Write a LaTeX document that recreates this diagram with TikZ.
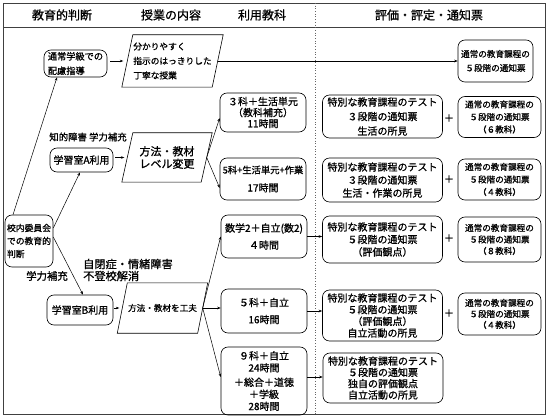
\documentclass[tikz,border=0pt]{standalone}
\usepackage{fontspec}
\setmainfont{Noto Sans CJK JP}[FakeBold=1.0]
\usetikzlibrary{arrows.meta}
\newcommand\myfs[2]{\fontsize{#1}{#2}\selectfont}
\tikzset{
  box/.style={draw, rounded corners=7pt, line width=0.6pt, inner sep=1pt, align=center},
  arr/.style={-{Stealth[length=3.5pt,width=2.6pt]}, line width=0.5pt},
  ln/.style={line width=0.5pt},
  hd/.style={font=\myfs{12}{14}},
  parabox/.style={inner sep=0pt},
}
\begin{document}
\begin{tikzpicture}[x=1pt,y=-1pt]
\useasboundingbox (0,0) rectangle (550,420);
% frame
\draw[black!75, line width=0.7pt] (3,3) rectangle (545,414);
\draw[black!75, line width=0.7pt] (3,27) -- (545,27);
\draw[black!60, dotted, line width=0.7pt] (315,3) -- (315,414);
% headers
\node[hd] (h1) at (62,15) {教育的判断};
\node[hd] (h2) at (171,15) {授業の内容};
\node[hd] (h3) at (262,15) {利用教科};
\node[hd] (h4) at (429,15) {評価・評定・通知票};
% left column
\node[box, minimum width=48pt, minimum height=52pt, align=left, font=\myfs{8.8}{13}] (kou) at (29,241) {校内委員会\\での教育的\\判断};
\node[box, minimum width=63pt, minimum height=27pt, align=left, font=\myfs{9.2}{14.5}] (tsujo) at (75.5,63.5) {通常学級での\\配慮指導};
\node[box, minimum width=63pt, minimum height=24pt, font=\myfs{10}{12}] (gakuA) at (81.5,160) {学習室A利用};
\node[box, minimum width=66pt, minimum height=30pt, font=\myfs{10}{12}] (gakuB) at (80,310) {学習室B利用};
\node[font=\myfs{9.4}{12}] (lab1) at (88,137) {知的障害 学力補充};
\node[font=\myfs{10.4}{12}] (lab2) at (47,276) {学力補充};
\node[font=\myfs{11.2}{12}, align=left, anchor=west, inner sep=0pt] (lab3) at (83,270) {自閉症・情緒障害\\不登校解消};
% parallelograms
\node[parabox, minimum width=90pt, minimum height=52pt, align=left, font=\myfs{8.7}{14.5}] (p1) at (172.5,61) {分かりやすく\\指示のはっきりした\\丁寧な授業};
\draw[line width=0.6pt] ([xshift=-5.5pt]p1.south west) -- ([xshift=5.5pt]p1.north west) -- ([xshift=5.5pt]p1.north east) -- ([xshift=-5.5pt]p1.south east) -- cycle;
\node[parabox, minimum width=79pt, minimum height=49pt, font=\myfs{11}{12.5}, align=center] (pA) at (167,157.5) {方法・教材\\レベル変更};
\draw[line width=0.6pt] ([xshift=-5.5pt]pA.south west) -- ([xshift=5.5pt]pA.north west) -- ([xshift=5.5pt]pA.north east) -- ([xshift=-5.5pt]pA.south east) -- cycle;
\node[parabox, minimum width=80pt, minimum height=50pt, font=\myfs{8.6}{11}] (pB) at (162.5,308) {方法・教材を工夫};
\draw[line width=0.6pt] ([xshift=-5pt]pB.south west) -- ([xshift=5pt]pB.north west) -- ([xshift=5pt]pB.north east) -- ([xshift=-5pt]pB.south east) -- cycle;
% middle column
\node[box, minimum width=86pt, minimum height=39pt, font=\myfs{10}{11}] (m1) at (263,112.5) {３科＋生活単元\\（教科補充）\\11時間};
\node[box, minimum width=86pt, minimum height=42pt, font=\myfs{9.3}{18}] (m2) at (263,179) {5科+生活単元+作業\\{\myfs{10}{18}17時間}};
\node[box, minimum width=86pt, minimum height=43pt, font=\myfs{10}{17}] (m3) at (264,236.5) {数学2＋自立(数2)\\４時間};
\node[box, minimum width=86pt, minimum height=44pt, font=\myfs{10}{17}] (m4) at (264,311) {５科＋自立\\16時間};
\node[box, minimum width=86pt, minimum height=68pt, font=\myfs{10}{12}] (m5) at (264,381) {９科＋自立\\24時間\\[2.5pt]＋総合＋道徳\\＋学級\\28時間};
% special boxes
\node[box, minimum width=120pt, minimum height=43pt, font=\myfs{10}{14.5}] (s1) at (382.5,116.5) {特別な教育課程のテスト\\３段階の通知票\\生活の所見};
\node[box, minimum width=120pt, minimum height=44pt, font=\myfs{10}{13}] (s2) at (382.5,180) {特別な教育課程のテスト\\３段階の通知票\\生活・作業の所見};
\node[box, minimum width=120pt, minimum height=47pt, font=\myfs{10}{12.5}] (s3) at (382.5,239.5) {特別な教育課程のテスト\\５段階の通知票\\（評価観点）};
\node[box, minimum width=120pt, minimum height=51pt, font=\myfs{10}{11.7}] (s4) at (382.5,315.5) {特別な教育課程のテスト\\５段階の通知票\\（評価観点）\\自立活動の所見};
\node[box, minimum width=120pt, minimum height=50pt, font=\myfs{10}{11.3}] (s5) at (383,378) {特別な教育課程のテスト\\５段階の通知票\\独自の評価観点\\自立活動の所見};
% regular boxes
\node[box, minimum width=75pt, minimum height=42pt, font=\myfs{8.6}{14}] (r0) at (495.5,61) {通常の教育課程の\\５段階の通知票};
\node[box, minimum width=83pt, minimum height=41pt, font=\myfs{8.6}{12.5}] (r1) at (499.5,117) {通常の教育課程の\\５段階の通知票\\（６教科）};
\node[box, minimum width=83pt, minimum height=41pt, font=\myfs{8.6}{12.5}] (r2) at (499.5,179.5) {通常の教育課程の\\５段階の通知票\\（４教科）};
\node[box, minimum width=83pt, minimum height=45pt, font=\myfs{8.6}{11.5}] (r3) at (499.5,239.5) {通常の教育課程の\\５段階の通知票\\（８教科）};
\node[box, minimum width=83pt, minimum height=42pt, font=\myfs{8.6}{11}] (r4) at (499.5,314) {通常の教育課程の\\５段階の通知票\\（４教科）};
% plus signs
\node[font=\myfs{10}{12}] (pl1) at (449,118) {＋};
\node[font=\myfs{10}{12}] (pl2) at (449,179) {＋};
\node[font=\myfs{10}{12}] (pl3) at (449,238) {＋};
\node[font=\myfs{10}{12}] (pl4) at (449,313) {＋};
% connectors
\draw[arr] ([xshift=-16pt]kou.north) -- ([xshift=-18.5pt]tsujo.south);
\draw[arr] ([yshift=13pt]kou.east) -- ([xshift=-1.5pt]gakuA.south);
\draw[arr] ([yshift=4pt]kou.east) -- ([xshift=3pt]gakuB.north);
\draw[arr, shorten <=3pt, shorten >=4pt] (tsujo.east |- p1.west) -- (p1.west);
\draw[arr, shorten <=2pt, shorten >=3pt] (gakuA.east |- pA.west) -- (pA.west);
\draw[arr, shorten <=1pt, shorten >=3pt] (gakuB.east |- pB.west) -- (pB.west);
\draw[arr] (p1.east) -- (r0.west);
\draw[arr] (pA.east) -- ([yshift=-5.5pt]m1.west);
\draw[arr] (pA.east) -- ([yshift=-9pt]m2.west);
\draw[arr] (pB.east) -- (m3.west);
\draw[arr] (pB.east) -- (pB.east -| m4.west);
\draw[arr] (pB.east) -- ([yshift=4pt]m5.west);
\draw[arr] (m3.east) -- (m3.east -| s3.west);
\draw[arr] (m4.east) -- (m4.east -| s4.west);
\draw[arr] ([yshift=4pt]m5.east) -- ([yshift=4pt]m5.east -| s5.west);
\end{tikzpicture}
\end{document}
